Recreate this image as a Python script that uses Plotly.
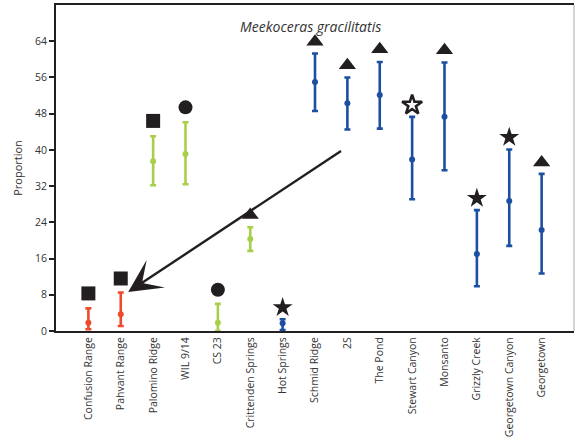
import plotly.graph_objects as go

# Sites along the transect
sites = ["Confusion Range", "Pahvant Range", "Palomino Ridge", "WIL 9/14", "CS 23",
         "Crittenden Springs", "Hot Springs", "Schmid Ridge", "2S", "The Pond",
         "Stewart Canyon", "Monsanto", "Grizzly Creek", "Georgetown Canyon", "Georgetown"]

# Proportion estimates with lower / upper bounds
low = [0.4, 1.1, 32.2, 32.4, 0.0, 17.7, 0.2, 48.6, 44.5, 44.7, 29.1, 35.5, 9.9, 18.8, 12.7]
mean = [1.8, 3.7, 37.5, 39.1, 1.8, 20.3, 1.7, 55.0, 50.3, 52.1, 37.9, 47.3, 17.0, 28.7, 22.3]
high = [5.0, 8.5, 43.0, 46.1, 6.0, 22.9, 2.6, 61.3, 56.0, 59.4, 47.3, 59.3, 26.7, 40.1, 34.7]

# Facies symbol drawn above each interval
symbol_y = [8.3, 11.6, 46.4, 49.4, 9.1, 25.6, 5.2, 63.9, 58.7, 62.2, 49.9, 62.0, 29.3, 42.8, 37.2]
symbols = ["square", "square", "square", "circle", "circle", "triangle-up", "star",
           "triangle-up", "triangle-up", "triangle-up", "star-open", "triangle-up",
           "star", "star", "triangle-up"]

# Region group of each site
region = ["south"] * 2 + ["middle"] * 4 + ["north"] * 9
region_colors = {"south": "#EE4A2C", "middle": "#A8CF4B", "north": "#1D4FA1"}

# Arrow: start and tip (category index, proportion)
arrow_start = (7.85, 40.0)
arrow_tip = (1.23, 8.6)

ticks = [0, 8, 16, 24, 32, 40, 48, 56, 64]
title_text = "Meekoceras gracilitatis"

font_family = "Open Sans, Noto Sans, sans-serif"
ink = "#231F20"

fig = go.Figure()

for reg, col in region_colors.items():
    idx = [i for i, r in enumerate(region) if r == reg]
    fig.add_trace(go.Scatter(
        x=idx,
        y=[mean[i] for i in idx],
        mode="markers",
        marker=dict(color=col, size=6, opacity=1),
        error_y=dict(type="data", symmetric=False,
                     array=[high[i] - mean[i] for i in idx],
                     arrayminus=[mean[i] - low[i] for i in idx],
                     color=col, thickness=2.6, width=3),
        cliponaxis=False,
        showlegend=False,
    ))

sizes = {"square": 14, "circle": 14, "triangle-up": 15, "star": 15, "star-open": 15}
fig.add_trace(go.Scatter(
    x=list(range(len(sites))),
    y=symbol_y,
    mode="markers",
    marker=dict(symbol=symbols, size=[sizes[s] for s in symbols], color=ink, opacity=1,
                line=dict(color=ink, width=[2.6 if s == "star-open" else 0 for s in symbols])),
    cliponaxis=False,
    showlegend=False,
))

fig.add_annotation(
    x=arrow_tip[0], y=arrow_tip[1], ax=arrow_start[0], ay=arrow_start[1],
    xref="x", yref="y", axref="x", ayref="y",
    text="", showarrow=True, arrowhead=3, arrowsize=2.3, arrowwidth=2.4,
    arrowcolor=ink,
)

fig.add_annotation(
    x=0.492, y=0.933, xref="paper", yref="paper", xanchor="center", yanchor="middle",
    text="<i>" + title_text + "</i>", showarrow=False,
    font=dict(family=font_family, size=14, color="#333333"),
)

# light right-hand border of the frame
fig.add_shape(type="line", xref="paper", yref="paper", x0=1, x1=1, y0=0, y1=1,
              line=dict(color="#C8C8C8", width=1.5))

fig.update_xaxes(
    range=[-1, 15],
    tickmode="array", tickvals=list(range(len(sites))), ticktext=sites,
    tickangle=-90, ticks="", showline=True, linecolor=ink, linewidth=2,
    mirror=True, showgrid=False, zeroline=False,
    tickfont=dict(family=font_family, size=10.5, color="#333333"),
)
fig.update_yaxes(
    range=[0, 72], tickmode="array", tickvals=ticks,
    ticks="outside", ticklen=5, tickwidth=1.5, tickcolor=ink,
    showline=True, linecolor=ink, linewidth=2, showgrid=False, zeroline=False,
    tickfont=dict(family=font_family, size=10.5, color="#333333"),
    title=dict(text="Proportion", font=dict(family=font_family, size=11, color="#333333"),
               standoff=10),
)

fig.update_layout(
    width=576, height=443,
    margin=dict(l=56, r=2, t=5, b=112),
    plot_bgcolor="white", paper_bgcolor="white",
    showlegend=False,
)

fig.write_html("out.html")
